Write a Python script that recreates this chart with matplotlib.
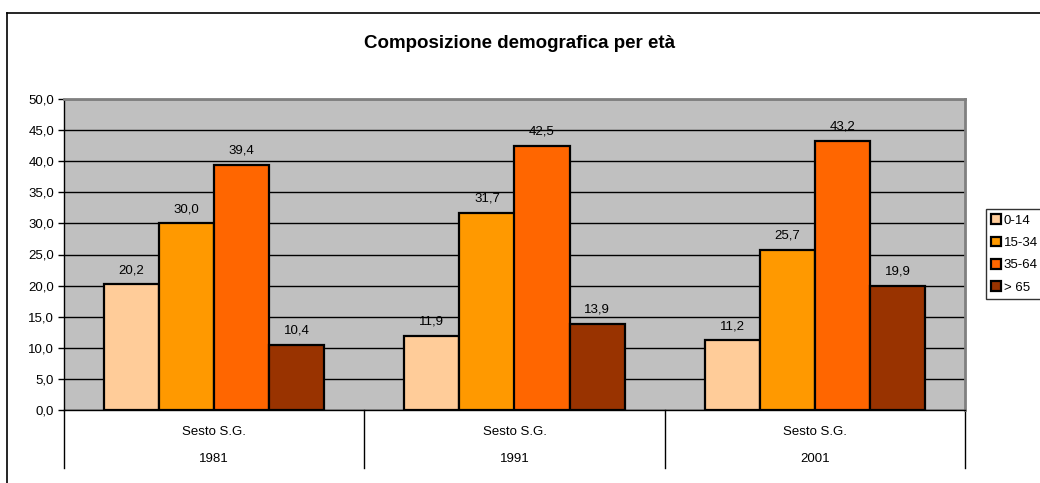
import numpy as np
import matplotlib
matplotlib.use('Agg')
from matplotlib import pyplot as plt
from matplotlib.lines import Line2D

# data
anni = ['1981', '1991', '2001']
comune = ['Sesto S.G.', 'Sesto S.G.', 'Sesto S.G.']
fasce = ['0-14', '15-34', '35-64', '> 65']
valori = [
    [20.2, 11.9, 11.2],   # 0-14
    [30.0, 31.7, 25.7],   # 15-34
    [39.4, 42.5, 43.2],   # 35-64
    [10.4, 13.9, 19.9],   # > 65
]
colori = ['#FFCC99', '#FF9900', '#FF6600', '#993300']

plt.rcParams['font.family'] = ['Liberation Sans', 'DejaVu Sans']
fs = 9.5

fig = plt.figure(figsize=(10.4, 4.83), dpi=100)
ax = fig.add_axes([64 / 1040, 1 - 410 / 483, 901 / 1040, 311 / 483])
ax.set_facecolor('#C0C0C0')

x = np.arange(len(anni))
w = 55 / 300
for i, (serie, col) in enumerate(zip(valori, colori)):
    pos = x + (i - 1.5) * w
    ax.bar(pos, serie, width=w, color=col, edgecolor='black', linewidth=1.6,
           label=fasce[i], zorder=3)
    for p, v in zip(pos, serie):
        ax.annotate(('%.1f' % v).replace('.', ','), (p, v), xytext=(0, 6),
                    textcoords='offset points', ha='center', va='bottom',
                    fontsize=fs)

ax.set_xlim(-0.5, 2.5)
ax.set_ylim(0, 50)
ax.set_yticks(np.arange(0, 50.1, 5))
ax.set_yticklabels([('%.1f' % t).replace('.', ',') for t in np.arange(0, 50.1, 5)],
                   fontsize=fs)
ax.yaxis.grid(True, color='black', linewidth=1)
ax.set_axisbelow(True)
ax.tick_params(axis='y', direction='out', length=4, width=1, pad=3)
ax.set_xticks([])
for s in ['top', 'right']:
    ax.spines[s].set_color('#808080')
    ax.spines[s].set_linewidth(2)
for s in ['left', 'bottom']:
    ax.spines[s].set_color('black')
    ax.spines[s].set_linewidth(1)

# two-level category axis
for b in [-0.5, 0.5, 1.5, 2.5]:
    ax.add_line(Line2D([b, b], [0, -58 / 311 * 50], color='black', linewidth=1,
                       clip_on=False))
for xi, c, a in zip(x, comune, anni):
    ax.text(xi, -22 / 311 * 50, c, ha='center', va='center', fontsize=fs)
    ax.text(xi, -49 / 311 * 50, a, ha='center', va='center', fontsize=fs)

fig.text(0.5, 1 - 43 / 483, 'Composizione demografica per età', ha='center',
         va='center', fontsize=13.5, fontweight='bold')

leg = fig.legend(loc='upper left', bbox_to_anchor=(986 / 1040, 1 - 209 / 483),
                 fontsize=fs, frameon=True, fancybox=False, edgecolor='black',
                 handlelength=0.75, handleheight=0.75, handletextpad=0.2,
                 borderpad=0.4, labelspacing=0.75, borderaxespad=0)
leg.get_frame().set_linewidth(1)

# chart border
fig.add_artist(Line2D([7 / 1040, 7 / 1040], [0, 1 - 13 / 483], color='black',
                      linewidth=1.2, transform=fig.transFigure))
fig.add_artist(Line2D([7 / 1040, 1], [1 - 13 / 483, 1 - 13 / 483], color='black',
                      linewidth=1.2, transform=fig.transFigure))

fig.savefig('out.png', dpi=100)
